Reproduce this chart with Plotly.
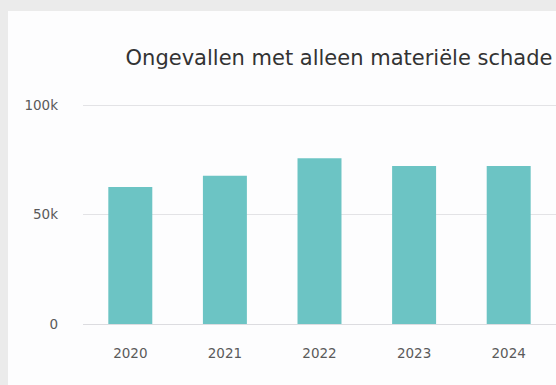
import plotly.graph_objects as go

# Ongevallen met alleen materiële schade, per jaar
years = ["2020", "2021", "2022", "2023", "2024"]
accidents = [62600, 67700, 75700, 72100, 72100]

y_tick_values = [0, 50000, 100000]
y_tick_labels = ["0", "50k", "100k"]

W, H = 556, 385
L, R, T, B = 83, 0, 98, 61
plot_w = W - L - R
plot_h = H - T - B
y_top = 100000 * plot_h / 219.0  # 100k sits a few pixels under the top edge

FONT = "DejaVu Sans, Verdana, sans-serif"

fig = go.Figure(
    go.Bar(
        x=years,
        y=accidents,
        marker=dict(color="#6cc4c4", line=dict(width=0)),
        width=0.465,
        hoverinfo="x+y",
    )
)

# white card on a light grey page
fig.add_shape(
    type="rect", xref="paper", yref="paper", layer="below",
    x0=(8 - L) / plot_w, x1=1.2,
    y0=-0.6, y1=(H - B - 11) / plot_h,
    fillcolor="#fdfdfe", line=dict(width=0),
)

fig.update_layout(
    width=W,
    height=H,
    margin=dict(l=L, r=R, t=T, b=B, pad=0),
    paper_bgcolor="#ebebeb",
    plot_bgcolor="#fdfdfe",
    showlegend=False,
    title=dict(
        text="Ongevallen met alleen materiële schade",
        x=339 / W, xanchor="center", xref="container",
        y=1 - 58 / H, yanchor="middle", yref="container",
        font=dict(family=FONT, size=21, color="#333333"),
    ),
    xaxis=dict(
        type="category",
        range=[-0.5, 4.5],
        showgrid=False,
        showline=False,
        zeroline=False,
        ticks="",
        ticklabelstandoff=19,
        tickfont=dict(family=FONT, size=13.5, color="#5a5a5a"),
        fixedrange=True,
    ),
    yaxis=dict(
        range=[0, y_top],
        tickvals=y_tick_values,
        ticktext=y_tick_labels,
        showgrid=True,
        gridcolor="#e3e3e6",
        gridwidth=1,
        zeroline=True,
        zerolinecolor="#dcdce0",
        zerolinewidth=1,
        showline=False,
        ticks="",
        ticklabelstandoff=24,
        tickfont=dict(family=FONT, size=13.5, color="#5a5a5a"),
        fixedrange=True,
    ),
)

fig.write_html("out.html")
